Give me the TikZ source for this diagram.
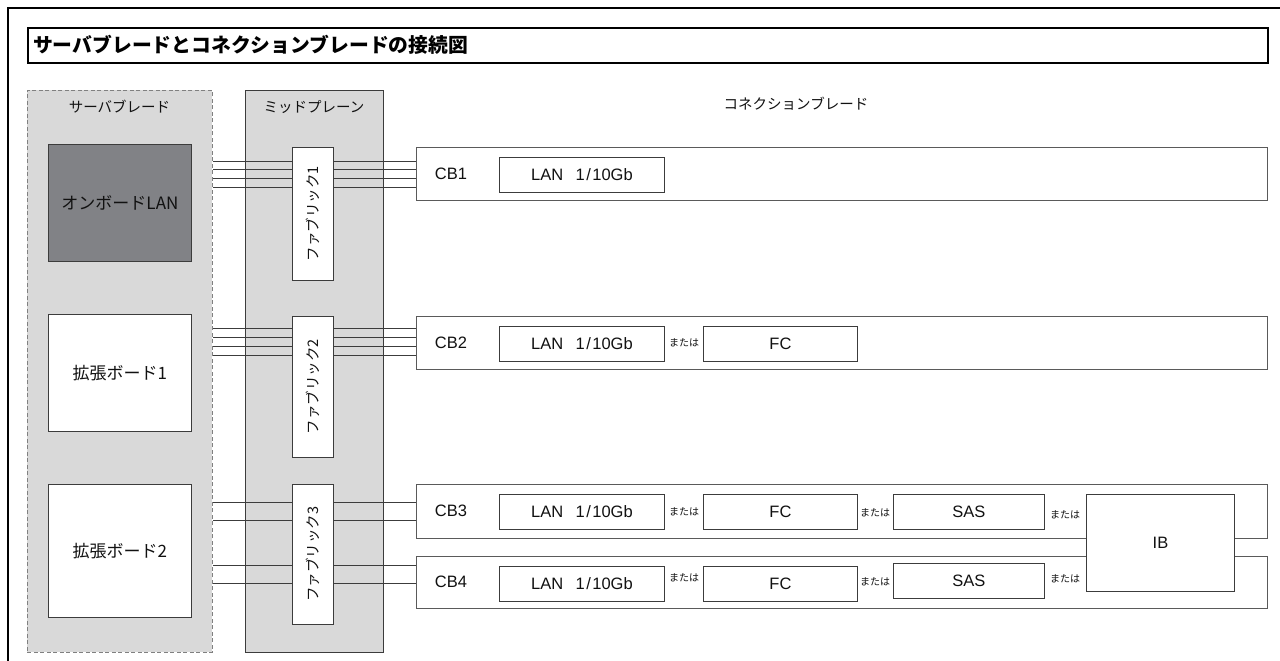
\documentclass[tikz,border=0pt]{standalone}
\usepackage{fontspec}
\setmainfont{Liberation Sans}
\newfontfamily\jp{Noto Sans CJK JP}
\newcommand\setfs[1]{\fontsize{#1}{#1}\selectfont}
\newcommand\lantext{LAN\hspace{0.75em}1\kern1.5pt/\kern1.5pt10Gb}
\definecolor{grp}{HTML}{D9D9D9}
\definecolor{dkbox}{HTML}{818286}
\definecolor{lnk}{HTML}{3C3C3C}
\definecolor{cbedge}{HTML}{5A5A5A}
\definecolor{txt}{HTML}{111111}
\begin{document}
\begin{tikzpicture}[x=1pt,y=-1pt,
  every node/.style={inner sep=0pt, text=txt},
  grpbox/.style={anchor=north west, fill=grp, line width=0.9pt},
  board/.style={anchor=north west, draw=lnk, line width=0.9pt, fill=white, minimum width=143, font=\jp\setfs{17}},
  fabbox/.style={anchor=north west, draw=lnk, line width=0.9pt, fill=white, minimum width=41},
  fabtext/.style={rotate=90, font=\jp\setfs{14.5}},
  cbbox/.style={anchor=north west, draw=cbedge, line width=1.1pt, fill=white, minimum width=851},
  cblabel/.style={font=\setfs{16.5}},
  opt/.style={anchor=north west, draw=lnk, line width=0.9pt, fill=white, minimum height=35, font=\setfs{16.5}},
  alt/.style={font=\jp\setfs{10}},
  link/.style={draw=lnk, line width=1pt},
  grplabel/.style={font=\jp\setfs{14.5}}]
\useasboundingbox (0,0) rectangle (1280,661);

% outer frame
\draw[line width=2pt, black] (8,661) -- (8,8) -- (1280,8);

% title
\node[anchor=north west, draw=black, line width=2pt, minimum width=1240, minimum height=35] (tbox) at (27,27) {};
\node[anchor=west, font=\jp\bfseries\setfs{19.8}, text=black] (title) at (33,45) {サーバブレードとコネクションブレードの接続図};

% groups
\node[grpbox, draw=gray, dashed, dash pattern=on 4pt off 2.5pt, minimum width=185, minimum height=562] (sb) at (27,90) {};
\node[grplabel] (sblabel) at (119.5,107) {サーバブレード};
\node[grpbox, draw=lnk, minimum width=138, minimum height=562] (mp) at (245,90) {};
\node[grplabel] (mplabel) at (314,107) {ミッドプレーン};
\node[grplabel] (cblab) at (796,104) {コネクションブレード};

% boards
\node[board, fill=dkbox, minimum height=117] (lan) at (48,144) {オンボードLAN};
\node[board, minimum height=117] (ex1) at (48,314) {拡張ボード1};
\node[board, minimum height=133] (ex2) at (48,484) {拡張ボード2};

% connection blades
\node[cbbox, minimum height=53] (cb1) at (416,147) {};
\node[cbbox, minimum height=53] (cb2) at (416,316) {};
\node[cbbox, minimum height=54] (cb3) at (416,484) {};
\node[cbbox, minimum height=52] (cb4) at (416,556) {};
\node[cblabel] (cb1l) at (451,173.5) {CB1};
\node[cblabel] (cb2l) at (451,342.5) {CB2};
\node[cblabel] (cb3l) at (451,511) {CB3};
\node[cblabel] (cb4l) at (451,582) {CB4};

% options
\node[opt, minimum width=165] (lan1) at (499,157) {\lantext};
\node[opt, minimum width=165] (lan2) at (499,326) {\lantext};
\node[opt, minimum width=165] (lan3) at (499,494) {\lantext};
\node[opt, minimum width=165] (lan4) at (499,566) {\lantext};
\node[opt, minimum width=154] (fc2) at (703,326) {FC};
\node[opt, minimum width=154] (fc3) at (703,494) {FC};
\node[opt, minimum width=154] (fc4) at (703,566) {FC};
\node[opt, minimum width=151] (sas3) at (893,494) {SAS};
\node[opt, minimum width=151] (sas4) at (893,563) {SAS};
\node[opt, minimum width=148, minimum height=97] (ib) at (1086,494) {IB};

% "or" labels
\node[alt] (o21) at (684,343) {または};
\node[alt] (o31) at (684,512) {または};
\node[alt] (o41) at (684,578) {または};
\node[alt] (o32) at (875,513) {または};
\node[alt] (o42) at (875,582) {または};
\node[alt] (o33) at (1065,515) {または};
\node[alt] (o43) at (1065,579) {または};

% links
\foreach \yy in {161,169.5,178.5,187}
  \draw[link] (sb.east |- 0,\yy) -- (cb1.west |- 0,\yy);
\foreach \yy in {328,337,346,355}
  \draw[link] (sb.east |- 0,\yy) -- (cb2.west |- 0,\yy);
\foreach \yy in {502,520}
  \draw[link] (sb.east |- 0,\yy) -- (cb3.west |- 0,\yy);
\foreach \yy in {565,583}
  \draw[link] (sb.east |- 0,\yy) -- (cb4.west |- 0,\yy);

% fabrics
\node[fabbox, minimum height=133] (f1) at (292,147) {};
\node[fabbox, minimum height=141] (f2) at (292,316) {};
\node[fabbox, minimum height=140] (f3) at (292,484) {};
\node[fabtext] (f1t) at (f1.center) {ファブリック1};
\node[fabtext] (f2t) at (f2.center) {ファブリック2};
\node[fabtext] (f3t) at (f3.center) {ファブリック3};
\end{tikzpicture}
\end{document}
